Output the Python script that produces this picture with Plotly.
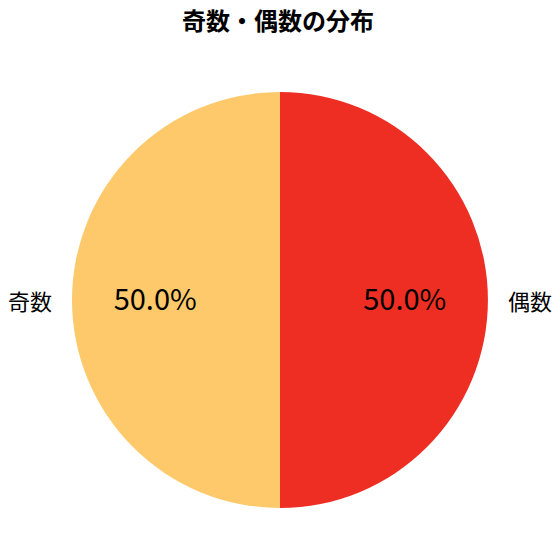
import plotly.graph_objects as go

# データ
labels = ["奇数", "偶数"]
values = [50, 50]
colors = ["#FDC96A", "#EE2E22"]

FONT = "Noto Sans CJK JP, Noto Sans, sans-serif"

# 円の領域（ページ余白 8px を考慮）
PIE_DOMAIN = dict(x=[0.1176, 0.8824], y=[0.0809, 0.8456])
LABEL_DOMAIN = dict(x=[0.0956, 0.9044], y=[0.0588, 0.8676])
PCT_DOMAIN = dict(x=[0.1176, 0.8824], y=[0.0859, 0.8506])

common = dict(
    labels=labels,
    values=values,
    sort=False,
    direction="clockwise",
    rotation=180,   # 6時の位置から時計回り → 奇数が左
    showlegend=False,
    automargin=False,
)

fig = go.Figure()

# 本体
fig.add_trace(go.Pie(
    **common,
    domain=PIE_DOMAIN,
    marker=dict(colors=colors, line=dict(width=0)),
    textinfo="none",
))

# 割合（透明な輪の内側に表示）
fig.add_trace(go.Pie(
    **common,
    domain=PCT_DOMAIN,
    hole=0.2,
    marker=dict(colors=["rgba(0,0,0,0)"] * 2, line=dict(width=0)),
    texttemplate="%{percent:.1%}",
    textposition="inside",
    insidetextorientation="horizontal",
    insidetextfont=dict(family=FONT, size=29, color="black"),
    hoverinfo="skip",
))

# ラベル（少し大きい透明な円の外側）
fig.add_trace(go.Pie(
    **common,
    domain=LABEL_DOMAIN,
    marker=dict(colors=["rgba(0,0,0,0)"] * 2, line=dict(width=0)),
    textinfo="label",
    textposition="outside",
    outsidetextfont=dict(family=FONT, size=22, color="black"),
    hoverinfo="skip",
))

fig.update_layout(
    title=dict(
        text="<b>奇数・偶数の分布</b>",
        x=0.482, xanchor="center",
        y=0.976, yanchor="middle",
        font=dict(family=FONT, size=24, color="black"),
    ),
    width=560,
    height=560,
    margin=dict(l=0, r=16, t=0, b=16),
    paper_bgcolor="white",
    plot_bgcolor="white",
    font=dict(family=FONT),
)

fig.write_html("out.html")
